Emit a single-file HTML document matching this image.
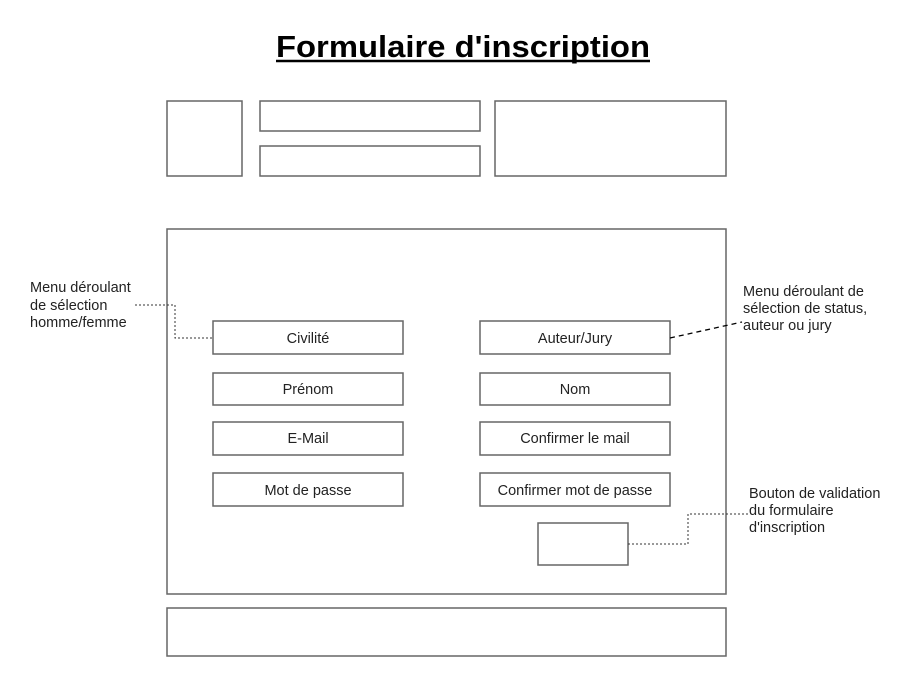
<!DOCTYPE html>
<html><head><meta charset="utf-8"><style>
html,body{margin:0;padding:0;background:#fff;}
svg{display:block;font-family:"Liberation Sans",Arial,sans-serif;}
</style></head><body>
<svg width="899" height="683" viewBox="0 0 899 683" xmlns="http://www.w3.org/2000/svg">
<text x="276" y="57" font-size="31" font-weight="bold" fill="#000" textLength="374" lengthAdjust="spacingAndGlyphs">Formulaire d'inscription</text>
<line x1="276" y1="61" x2="650" y2="61" stroke="#000" stroke-width="2.5"/>
<g fill="none" stroke="#666" stroke-width="1.5">
<rect x="167" y="101" width="75" height="75"/>
<rect x="260" y="101" width="220" height="30"/>
<rect x="260" y="146" width="220" height="30"/>
<rect x="495" y="101" width="231" height="75"/>
<rect x="167" y="229" width="559" height="365"/>
<rect x="167" y="608" width="559" height="48"/>
<rect x="213" y="321" width="190" height="33"/>
<rect x="480" y="321" width="190" height="33"/>
<rect x="213" y="373" width="190" height="32"/>
<rect x="480" y="373" width="190" height="32"/>
<rect x="213" y="422" width="190" height="33"/>
<rect x="480" y="422" width="190" height="33"/>
<rect x="213" y="473" width="190" height="33"/>
<rect x="480" y="473" width="190" height="33"/>
<rect x="538" y="523" width="90" height="42"/>
</g>
<g fill="none" stroke="#333" stroke-width="1" stroke-dasharray="2,2">
<polyline points="135,305 175,305 175,338 213,338"/>
<polyline points="628,544 688,544 688,514 748,514"/>
</g>
<line x1="670" y1="338" x2="742" y2="322" stroke="#000" stroke-width="1.3" stroke-dasharray="5,4"/>
<g font-size="14.5" fill="#222" text-anchor="middle">
<text x="308" y="343">Civilité</text>
<text x="575" y="343">Auteur/Jury</text>
<text x="308" y="394">Prénom</text>
<text x="575" y="394">Nom</text>
<text x="308" y="443">E-Mail</text>
<text x="575" y="443">Confirmer le mail</text>
<text x="308" y="495">Mot de passe</text>
<text x="575" y="495">Confirmer mot de passe</text>
</g>
<g font-size="14.5" fill="#222">
<text x="30" y="292">Menu déroulant</text>
<text x="30" y="310">de sélection</text>
<text x="30" y="327">homme/femme</text>
<text x="743" y="296">Menu déroulant de</text>
<text x="743" y="313">sélection de status,</text>
<text x="743" y="330">auteur ou jury</text>
<text x="749" y="498">Bouton de validation</text>
<text x="749" y="515">du formulaire</text>
<text x="749" y="532">d'inscription</text>
</g>
</svg>
</body></html>
